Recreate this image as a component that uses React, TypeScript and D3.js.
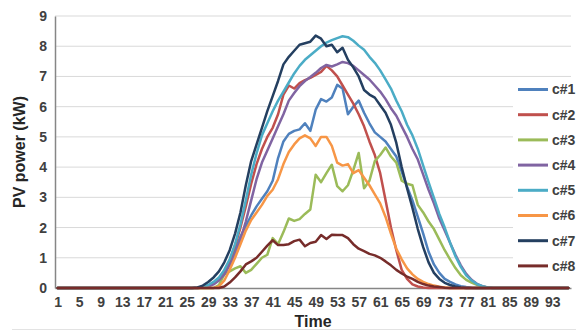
import * as d3 from 'd3';
import React, { useRef, useEffect } from 'react';

// 15-minute slots over a day
const slots = d3.range(1, 97);
const timeTicks = [1, 5, 9, 13, 17, 21, 25, 29, 33, 37, 41, 45, 49, 53, 57, 61, 65, 69, 73, 77, 81, 85, 89, 93];
const powerTicks = [0, 1, 2, 3, 4, 5, 6, 7, 8, 9];

const seriesNames = ['c#1', 'c#2', 'c#3', 'c#4', 'c#5', 'c#6', 'c#7', 'c#8'];
const seriesColors = ['#4F81BD', '#C0504D', '#9BBB59', '#8064A2', '#4BACC6', '#F79646', '#243F60', '#772C2A'];

const c1 = [
    0, 0, 0, 0, 0, 0, 0, 0, 0, 0, 0, 0, 0, 0, 0, 0, 0, 0, 0, 0, 0, 0, 0, 0, 0, 0, 0,
    0.02, 0.05, 0.15, 0.3, 0.55, 0.85, 1.25, 1.7, 2.05, 2.4, 2.7, 2.95, 3.2, 3.55, 4.3, 4.85, 5.1, 5.2, 5.25,
    5.45, 5.2, 5.9, 6.25, 6.17, 6.3, 6.72, 6.6, 5.75, 6.0, 6.2, 5.8, 5.45, 5.15, 5.0, 4.85, 4.6, 4.35, 3.85,
    3.35, 2.9, 2.35, 1.8, 1.2, 0.78, 0.5, 0.3, 0.2, 0.12, 0.06, 0.03, 0.01,
    0, 0, 0, 0, 0, 0, 0, 0, 0, 0, 0, 0, 0, 0, 0, 0, 0, 0,
];
const c2 = [
    0, 0, 0, 0, 0, 0, 0, 0, 0, 0, 0, 0, 0, 0, 0, 0, 0, 0, 0, 0, 0, 0, 0, 0, 0, 0, 0,
    0.02, 0.06, 0.15, 0.3, 0.55, 0.9, 1.4, 2.0, 2.7, 3.45, 4.1, 4.6, 5.0, 5.3, 5.75, 6.4, 6.7, 6.6, 6.78,
    6.88, 6.95, 7.05, 7.15, 7.35, 7.2, 7.0, 6.7, 6.4, 6.1, 5.75, 5.35, 4.85, 4.4, 3.8, 2.9, 2.0, 1.25, 0.6,
    0.3, 0.12, 0.05, 0.02,
    0, 0, 0, 0, 0, 0, 0, 0, 0, 0, 0, 0, 0, 0, 0, 0, 0, 0, 0, 0, 0, 0, 0, 0, 0, 0, 0,
];
const c3 = [
    0, 0, 0, 0, 0, 0, 0, 0, 0, 0, 0, 0, 0, 0, 0, 0, 0, 0, 0, 0, 0, 0, 0, 0, 0, 0, 0, 0, 0, 0,
    0.1, 0.45, 0.55, 0.65, 0.72, 0.5, 0.6, 0.8, 1.0, 1.1, 1.65, 1.45, 1.85, 2.3, 2.22, 2.28, 2.45, 2.6,
    3.75, 3.5, 3.8, 4.08, 3.37, 3.2, 3.4, 3.9, 4.47, 3.3, 3.55, 4.2, 4.4, 4.65, 4.35, 4.15, 3.55, 3.45,
    3.4, 2.75, 2.5, 2.2, 1.95, 1.6, 1.25, 0.95, 0.66, 0.42, 0.27, 0.18, 0.1, 0.05, 0.02,
    0, 0, 0, 0, 0, 0, 0, 0, 0, 0, 0, 0, 0, 0, 0,
];
const c4 = [
    0, 0, 0, 0, 0, 0, 0, 0, 0, 0, 0, 0, 0, 0, 0, 0, 0, 0, 0, 0, 0, 0, 0, 0, 0, 0, 0,
    0.02, 0.05, 0.12, 0.25, 0.45, 0.75, 1.1, 1.6, 2.2, 2.9, 3.6, 4.15, 4.55, 4.95, 5.35, 5.75, 6.2, 6.45,
    6.68, 6.85, 6.98, 7.12, 7.28, 7.38, 7.33, 7.4, 7.48, 7.44, 7.35, 7.2, 7.05, 6.9, 6.7, 6.5, 6.25, 5.95,
    5.7, 5.35, 5.0, 4.6, 4.25, 3.75, 3.25, 2.8, 2.3, 1.9, 1.5, 1.1, 0.75, 0.47, 0.27, 0.14, 0.06, 0.02,
    0, 0, 0, 0, 0, 0, 0, 0, 0, 0, 0, 0, 0, 0, 0,
];
const c5 = [
    0, 0, 0, 0, 0, 0, 0, 0, 0, 0, 0, 0, 0, 0, 0, 0, 0, 0, 0, 0, 0, 0, 0, 0, 0, 0, 0,
    0.03, 0.1, 0.2, 0.35, 0.6, 0.95, 1.45, 2.1, 2.9, 3.75, 4.45, 5.05, 5.45, 5.85, 6.2, 6.5, 6.8, 7.1,
    7.35, 7.55, 7.7, 7.85, 8.0, 8.12, 8.2, 8.27, 8.33, 8.3, 8.18, 8.02, 7.88, 7.65, 7.45, 7.2, 6.9, 6.6,
    6.2, 5.85, 5.4, 5.05, 4.6, 4.05, 3.5, 2.98, 2.45, 2.0, 1.5, 1.05, 0.7, 0.42, 0.25, 0.13, 0.06, 0.02,
    0, 0, 0, 0, 0, 0, 0, 0, 0, 0, 0, 0, 0, 0, 0,
];
const c6 = [
    0, 0, 0, 0, 0, 0, 0, 0, 0, 0, 0, 0, 0, 0, 0, 0, 0, 0, 0, 0, 0, 0, 0, 0, 0, 0, 0, 0, 0, 0,
    0.05, 0.25, 0.6, 1.0, 1.45, 1.9, 2.25, 2.5, 2.75, 3.05, 3.25, 3.6, 4.1, 4.5, 4.75, 4.95, 5.05, 4.95,
    4.7, 5.0, 5.0, 4.7, 4.15, 4.05, 4.1, 3.8, 3.9, 3.65, 3.4, 3.1, 2.8, 2.35, 1.8, 1.3, 0.95, 0.65, 0.45,
    0.3, 0.2, 0.13, 0.08, 0.04, 0.02,
    0, 0, 0, 0, 0, 0, 0, 0, 0, 0, 0, 0, 0, 0, 0, 0, 0, 0, 0, 0, 0, 0, 0,
];
const c7 = [
    0, 0, 0, 0, 0, 0, 0, 0, 0, 0, 0, 0, 0, 0, 0, 0, 0, 0, 0, 0, 0, 0, 0, 0, 0, 0,
    0.02, 0.08, 0.2, 0.35, 0.55, 0.85, 1.25, 1.8, 2.5, 3.4, 4.2, 4.75, 5.3, 5.85, 6.35, 6.85, 7.4, 7.65,
    7.85, 8.05, 8.1, 8.15, 8.35, 8.25, 8.0, 8.05, 7.8, 7.95, 7.55, 7.3, 7.0, 6.55, 6.4, 6.3, 6.05, 5.8,
    5.4, 4.8, 4.0, 3.3, 2.65, 1.95, 1.35, 0.85, 0.5, 0.3, 0.17, 0.1, 0.05, 0.02,
    0, 0, 0, 0, 0, 0, 0, 0, 0, 0, 0, 0, 0, 0, 0, 0, 0, 0, 0, 0,
];
const c8 = [
    0, 0, 0, 0, 0, 0, 0, 0, 0, 0, 0, 0, 0, 0, 0, 0, 0, 0, 0, 0, 0, 0, 0, 0, 0, 0, 0, 0, 0, 0, 0,
    0.05, 0.18, 0.35, 0.55, 0.78, 0.88, 1.0, 1.2, 1.4, 1.58, 1.42, 1.42, 1.45, 1.55, 1.6, 1.38, 1.49,
    1.53, 1.75, 1.62, 1.76, 1.75, 1.75, 1.65, 1.45, 1.3, 1.22, 1.13, 1.08, 1.0, 0.88, 0.75, 0.6, 0.48,
    0.38, 0.3, 0.2, 0.13, 0.08, 0.05, 0.03, 0.01,
    0, 0, 0, 0, 0, 0, 0, 0, 0, 0, 0, 0, 0, 0, 0, 0, 0, 0, 0, 0, 0, 0, 0,
];

const seriesValues = [c1, c2, c3, c4, c5, c6, c7, c8];

const PVChart: React.FC = () => {
    const svgRef = useRef<SVGSVGElement | null>(null);

    useEffect(() => {
        const width = 581;
        const height = 331;
        const l = 55;
        const r = 571;
        const t = 16;
        const b = 288;
        const font = '"Liberation Sans", Arial, sans-serif';

        const svg = d3.select(svgRef.current)
            .attr('width', width)
            .attr('height', height);
        svg.selectAll('*').remove();

        svg.append('rect')
            .attr('width', width)
            .attr('height', height)
            .attr('fill', '#FFFFFF');

        const xScale = d3.scalePoint<number>()
            .domain(slots)
            .range([l, r])
            .padding(0.5);

        const yScale = d3.scaleLinear()
            .domain([0, 9])
            .range([b, t]);

        // horizontal gridlines
        svg.append('g')
            .selectAll('line')
            .data(powerTicks.filter(v => v > 0))
            .enter()
            .append('line')
            .attr('x1', l)
            .attr('x2', r)
            .attr('y1', d => yScale(d))
            .attr('y2', d => yScale(d))
            .attr('stroke', '#D9D9D9')
            .attr('stroke-width', 1);

        // y axis
        const yAxis = svg.append('g')
            .attr('transform', `translate(${l}, 0)`)
            .call(d3.axisLeft(yScale).tickValues(powerTicks).tickSize(0).tickPadding(8));
        yAxis.select('.domain').attr('stroke', '#868686').attr('stroke-width', 1.5);
        yAxis.selectAll('text')
            .attr('font-family', font)
            .attr('font-size', 14)
            .attr('font-weight', 'bold')
            .attr('fill', '#404040');

        // x axis
        const xAxis = svg.append('g')
            .attr('transform', `translate(0, ${b})`)
            .call(d3.axisBottom(xScale).tickValues(timeTicks).tickSize(0).tickPadding(9));
        xAxis.select('.domain').attr('stroke', '#868686').attr('stroke-width', 1.5);
        xAxis.selectAll('text')
            .attr('font-family', font)
            .attr('font-size', 14)
            .attr('font-weight', 'bold')
            .attr('fill', '#404040');

        // legend backdrop hides gridlines behind it
        svg.append('rect')
            .attr('x', 513)
            .attr('y', 80)
            .attr('width', 68)
            .attr('height', 198)
            .attr('fill', '#FFFFFF');

        const line = d3.line<number>()
            .x((d, i) => xScale(slots[i])!)
            .y(d => yScale(d));

        seriesValues.forEach((vals, k) => {
            svg.append('path')
                .datum(vals)
                .attr('d', line)
                .attr('fill', 'none')
                .attr('stroke', seriesColors[k])
                .attr('stroke-width', 2.5)
                .attr('stroke-linejoin', 'round')
                .attr('stroke-linecap', 'round');
        });

        // legend
        const legend = svg.append('g');
        seriesNames.forEach((name, k) => {
            const ly = 89.5 + k * 25.2;
            legend.append('line')
                .attr('x1', 518)
                .attr('x2', 548)
                .attr('y1', ly)
                .attr('y2', ly)
                .attr('stroke', seriesColors[k])
                .attr('stroke-width', 3);
            legend.append('text')
                .attr('x', 552)
                .attr('y', ly)
                .attr('dy', '0.35em')
                .attr('font-family', font)
                .attr('font-size', 14)
                .attr('font-weight', 'bold')
                .attr('fill', '#404040')
                .text(name);
        });

        // axis titles
        svg.append('text')
            .attr('x', (l + r) / 2)
            .attr('y', 327)
            .attr('text-anchor', 'middle')
            .attr('font-family', font)
            .attr('font-size', 16)
            .attr('font-weight', 'bold')
            .attr('fill', '#262626')
            .text('Time');

        svg.append('text')
            .attr('transform', `translate(25, ${(t + b) / 2}) rotate(-90)`)
            .attr('text-anchor', 'middle')
            .attr('font-family', font)
            .attr('font-size', 16)
            .attr('font-weight', 'bold')
            .attr('fill', '#262626')
            .text('PV power (kW)');

        // faint chart border at the bottom
        svg.append('line')
            .attr('x1', 12)
            .attr('x2', 576)
            .attr('y1', 329.5)
            .attr('y2', 329.5)
            .attr('stroke', '#E3E3E3')
            .attr('stroke-width', 1);
    }, []);

    return <svg ref={svgRef} style={{ position: 'absolute', left: 0, top: 0 }}></svg>;
};

export default function App() {
    return <PVChart />;
}
